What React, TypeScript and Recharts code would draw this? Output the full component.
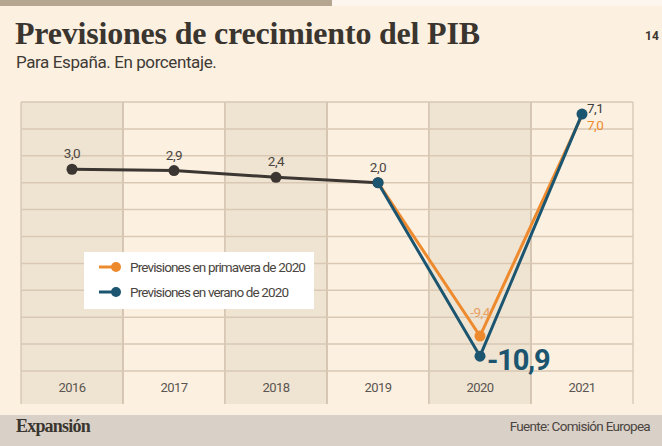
import React from 'react';
import {
  ComposedChart,
  Line,
  XAxis,
  YAxis,
  ReferenceArea,
  ReferenceLine,
  LabelList,
} from 'recharts';

// Datos (previsiones de PIB, %)
const YEARS = ['2016', '2017', '2018', '2019', '2020', '2021'];
const HISTORICO = [3.0, 2.9, 2.4, 2.0, null, null];
const PRIMAVERA = [null, null, null, 2.0, -9.4, 7.0];
const VERANO = [null, null, null, 2.0, -10.9, 7.1];
const SHADED_YEARS = ['2016', '2018', '2020'];
const GRID_TICKS = [8, 6, 4, 2, 0, -2, -4, -6, -8, -10, -12];

const Y_MAX = 8;
const Y_MIN = -12;
// columns run on through the year row under the plot
const COLUMN_BOTTOM = -14.45;

const COND = "Roboto, 'Liberation Sans', sans-serif";
const SERIF = "'Liberation Serif', 'DejaVu Serif', serif";

const GRAY = '#3b3631';
const ORANGE = '#ee8a2e';
const TEAL = '#1b5570';

const data = YEARS.map((year, i) => ({
  year,
  historico: HISTORICO[i],
  primavera: PRIMAVERA[i],
  verano: VERANO[i],
}));

const fmt = (v: number) => v.toFixed(1).replace('.', ',');

const columnShape = (year: string) => (props: any) => {
  const { x, y, width, height } = props;
  const shaded = SHADED_YEARS.includes(year);
  return (
    <g>
      {shaded && <rect x={x} y={y} width={width} height={height} fill="#efe3d1" />}
      <line x1={x} y1={y} x2={x} y2={y + height} stroke="#cbbaa6" strokeWidth={1} />
      <line x1={x + width} y1={y} x2={x + width} y2={y + height} stroke="#cbbaa6" strokeWidth={1} />
    </g>
  );
};

const YearTick = (props: any) => {
  const { x, y, payload } = props;
  return (
    <text x={x} y={y + 21} textAnchor="middle" fontFamily={COND} fontSize={13} letterSpacing={-0.5} fill="#5a5550">
      {payload.value}
    </text>
  );
};

const histLabel = (props: any) => {
  const { x, y, value } = props;
  if (value == null) return null;
  return (
    <text x={x} y={y - 11} textAnchor="middle" fontFamily={COND} fontSize={13.5} letterSpacing={-0.5} fill="#4a4540">
      {fmt(value)}
    </text>
  );
};

const primaveraLabel = (props: any) => {
  const { x, y, value, index } = props;
  if (value == null || index === 3) return null;
  if (index === 4) {
    return (
      <text x={x} y={y - 19} textAnchor="middle" fontFamily={COND} fontSize={13.5} letterSpacing={-0.5} fill="#e7a062">
        {fmt(value)}
      </text>
    );
  }
  return (
    <text x={x + 5} y={y + 15} textAnchor="start" fontFamily={COND} fontSize={13.5} letterSpacing={-0.5} fill={ORANGE}>
      {fmt(value)}
    </text>
  );
};

const veranoLabel = (props: any) => {
  const { x, y, value, index } = props;
  if (value == null || index === 3) return null;
  if (index === 4) {
    return (
      <text x={x + 7} y={y + 14} textAnchor="start" fontFamily={COND} fontSize={29} fontWeight="bold" letterSpacing={-1.2} fill={TEAL}>
        {fmt(value)}
      </text>
    );
  }
  return (
    <text x={x + 5} y={y - 1} textAnchor="start" fontFamily={COND} fontSize={13.5} letterSpacing={-0.5} fill="#3e3e3e">
      {fmt(value)}
    </text>
  );
};

const dotAt = (color: string, indexes: number[]) => (props: any) => {
  const { cx, cy, index } = props;
  if (!indexes.includes(index) || cy == null) return <g key={index} />;
  return <circle key={index} cx={cx} cy={cy} r={5.5} fill={color} />;
};

const LegendBox = () => {
  const items = [
    { label: 'Previsiones en primavera de 2020', color: ORANGE },
    { label: 'Previsiones en verano de 2020', color: TEAL },
  ];
  return (
    <div style={{ position: 'absolute', left: 84, top: 252, width: 230, height: 57, background: '#ffffff' }}>
      {items.map((it, i) => (
        <div
          key={it.label}
          style={{ position: 'absolute', left: 15, top: 6 + i * 25, height: 18, display: 'flex', alignItems: 'center' }}
        >
          <svg width={24} height={12}>
            <line x1={0} y1={6} x2={18} y2={6} stroke={it.color} strokeWidth={3} />
            <circle cx={17} cy={6} r={5} fill={it.color} />
          </svg>
          <span
            style={{
              marginLeft: 7,
              fontFamily: COND,
              fontSize: 13.5,
              letterSpacing: -0.85,
              color: '#4a4540',
              whiteSpace: 'nowrap',
            }}
          >
            {it.label}
          </span>
        </div>
      ))}
    </div>
  );
};

export default function App() {
  return (
    <div
      style={{
        position: 'absolute',
        left: 0,
        top: 0,
        width: 662,
        height: 446,
        background: '#fcf0e1',
        overflow: 'hidden',
      }}
    >
      <div style={{ position: 'absolute', left: 0, top: 0, width: 332, height: 6, background: '#b5a692' }} />
      <div style={{ position: 'absolute', left: 332, top: 0, width: 330, height: 6, background: '#fdf6ee' }} />
      <div
        style={{
          position: 'absolute',
          left: 15,
          top: 15,
          fontFamily: SERIF,
          fontWeight: 'bold',
          fontSize: 32,
          color: '#3a352f',
          whiteSpace: 'nowrap',
          letterSpacing: -0.2,
        }}
      >
        Previsiones de crecimiento del PIB
      </div>
      <div
        style={{ position: 'absolute', left: 645, top: 29, fontFamily: COND, fontWeight: 'bold', fontSize: 12, color: '#3a352f' }}
      >
        14
      </div>
      <div
        style={{
          position: 'absolute',
          left: 16,
          top: 52,
          fontFamily: COND,
          fontSize: 17,
          letterSpacing: -0.4,
          color: '#3f3a34',
          whiteSpace: 'nowrap',
        }}
      >
        Para España. En porcentaje.
      </div>

      <div style={{ position: 'absolute', left: 0, top: 0 }}>
        <ComposedChart width={662} height={404} data={data} margin={{ top: 102, right: 29, bottom: 0, left: 21 }}>
          {YEARS.map((year) => (
            <ReferenceArea
              key={year}
              x1={year}
              x2={year}
              y1={COLUMN_BOTTOM}
              y2={Y_MAX}
              ifOverflow="visible"
              shape={columnShape(year)}
            />
          ))}
          {GRID_TICKS.map((t) => (
            <ReferenceLine key={t} y={t} stroke="#d9c9b4" strokeWidth={1.5} ifOverflow="visible" />
          ))}
          <XAxis
            dataKey="year"
            scale="band"
            height={33}
            axisLine={false}
            tickLine={false}
            tickSize={0}
            tickMargin={0}
            tick={<YearTick />}
            interval={0}
          />
          <YAxis
            type="number"
            domain={[Y_MIN, Y_MAX]}
            ticks={GRID_TICKS}
            width={0}
            tick={false}
            axisLine={false}
            tickLine={false}
          />
          <Line
            dataKey="historico"
            stroke={GRAY}
            strokeWidth={3}
            dot={dotAt(GRAY, [0, 1, 2, 3])}
            activeDot={false}
            isAnimationActive={false}
          >
            <LabelList dataKey="historico" content={histLabel} />
          </Line>
          <Line
            dataKey="primavera"
            stroke={ORANGE}
            strokeWidth={3}
            dot={dotAt(ORANGE, [4])}
            activeDot={false}
            isAnimationActive={false}
          >
            <LabelList dataKey="primavera" content={primaveraLabel} />
          </Line>
          <Line
            dataKey="verano"
            stroke={TEAL}
            strokeWidth={3}
            dot={dotAt(TEAL, [3, 4, 5])}
            activeDot={false}
            isAnimationActive={false}
          >
            <LabelList dataKey="verano" content={veranoLabel} />
          </Line>
        </ComposedChart>
      </div>

      <LegendBox />

      <div style={{ position: 'absolute', left: 0, top: 415, width: 662, height: 31, background: '#d9d0c8' }} />
      <div
        style={{
          position: 'absolute',
          left: 16,
          top: 416,
          fontFamily: SERIF,
          fontWeight: 'bold',
          fontSize: 18,
          letterSpacing: -0.8,
          color: '#3a352f',
        }}
      >
        Expansión
      </div>
      <div
        style={{
          position: 'absolute',
          right: 12,
          top: 418,
          fontFamily: COND,
          fontSize: 13.5,
          letterSpacing: -0.7,
          color: '#4a4540',
          whiteSpace: 'nowrap',
        }}
      >
        Fuente: Comisión Europea
      </div>
    </div>
  );
}
